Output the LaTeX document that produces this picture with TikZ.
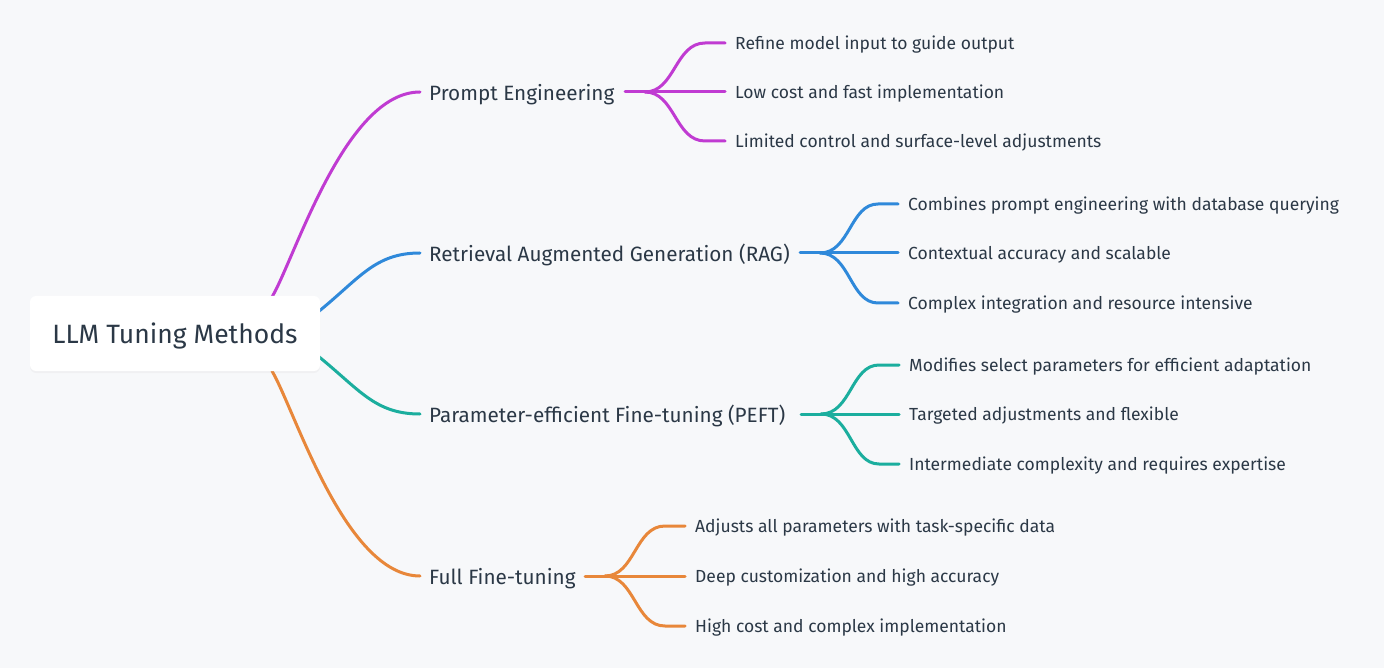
\documentclass[tikz,border=0pt]{standalone}
\usepackage{fontspec}
\setmainfont{Fira Sans}
\usetikzlibrary{shadows}
\definecolor{bgc}{HTML}{F7F8FA}
\definecolor{txt}{HTML}{2B3846}
\definecolor{cmag}{HTML}{C03BD2}
\definecolor{cblu}{HTML}{2F89DA}
\definecolor{cteal}{HTML}{1BAE9E}
\definecolor{corg}{HTML}{E8873A}
\tikzset{
  rootbox/.style={fill=white, rounded corners=6pt, minimum width=290pt, minimum height=75pt, inner sep=0pt,
    text=txt, font=\fontsize{26.5}{30}\selectfont, text depth=0pt,
    drop shadow={opacity=0.06, shadow xshift=0pt, shadow yshift=-2pt}},
  mainlbl/.style={anchor=west, inner sep=0pt, text=txt, text depth=0pt, font=\fontsize{20.7}{24}\selectfont},
  sublbl/.style={anchor=west, inner sep=0pt, text=txt, text depth=0pt, font=\fontsize{17.5}{21}\selectfont},
  edge/.style={line width=3pt, line cap=round},
}
\begin{document}
\begin{tikzpicture}[x=1pt,y=-1pt]
\fill[bgc] (0,0) rectangle (1384,668);
\useasboundingbox (0,0) rectangle (1384,668);

% root
\coordinate (sm) at (272,297);
\coordinate (sb) at (318,312);
\coordinate (st) at (318,356);
\coordinate (so) at (272,371);
\draw[edge,cmag] (sm) .. controls (295,258) and (345,92) .. (420,92) coordinate (em);
\draw[edge,cblu] (sb) .. controls (360,278) and (375,253) .. (420,253) coordinate (eb);
\draw[edge,cteal] (st) .. controls (360,390) and (375,414) .. (420,414) coordinate (et);
\draw[edge,corg] (so) .. controls (295,410) and (345,576) .. (420,576) coordinate (eo);
\node[rootbox] (root) at (175,333.5) {LLM Tuning Methods};

% main labels
\node[mainlbl] (pe) at (429,92) {Prompt Engineering};
\node[mainlbl] (rag) at (429,253) {Retrieval Augmented Generation (RAG)};
\node[mainlbl] (peft) at (429,414) {Parameter-efficient Fine-tuning (PEFT)};
\node[mainlbl] (fft) at (429,576) {Full Fine-tuning};

% Prompt engineering children
\node[sublbl] (pe1) at (735,43) {Refine model input to guide output};
\node[sublbl] (pe2) at (735,92) {Low cost and fast implementation};
\node[sublbl] (pe3) at (735,141) {Limited control and surface-level adjustments};
\coordinate (pej) at (645,92);
\draw[edge,cmag] (625,92) -- (725,92);
\draw[edge,cmag] (pej) .. controls (675,92) and (675,43) .. (705,43) -- (725,43);
\draw[edge,cmag] (pej) .. controls (675,92) and (675,141) .. (705,141) -- (725,141);

% RAG children
\node[sublbl] (rag1) at (908,204) {Combines prompt engineering with database querying};
\node[sublbl] (rag2) at (908,253) {Contextual accuracy and scalable};
\node[sublbl] (rag3) at (908,303) {Complex integration and resource intensive};
\coordinate (ragj) at (820,253);
\draw[edge,cblu] (800,253) -- (898,253);
\draw[edge,cblu] (ragj) .. controls (850,253) and (850,204) .. (878,204) -- (898,204);
\draw[edge,cblu] (ragj) .. controls (850,253) and (850,303) .. (878,303) -- (898,303);

% PEFT children
\node[sublbl] (peft1) at (909,365) {Modifies select parameters for efficient adaptation};
\node[sublbl] (peft2) at (909,414) {Targeted adjustments and flexible};
\node[sublbl] (peft3) at (909,464) {Intermediate complexity and requires expertise};
\coordinate (peftj) at (821,414);
\draw[edge,cteal] (801,414) -- (899,414);
\draw[edge,cteal] (peftj) .. controls (851,414) and (851,365) .. (879,365) -- (899,365);
\draw[edge,cteal] (peftj) .. controls (851,414) and (851,464) .. (879,464) -- (899,464);

% Full fine-tuning children
\node[sublbl] (fft1) at (695,526) {Adjusts all parameters with task-specific data};
\node[sublbl] (fft2) at (695,576) {Deep customization and high accuracy};
\node[sublbl] (fft3) at (695,626) {High cost and complex implementation};
\coordinate (fftj) at (605,576);
\draw[edge,corg] (585,576) -- (685,576);
\draw[edge,corg] (fftj) .. controls (635,576) and (635,526) .. (665,526) -- (685,526);
\draw[edge,corg] (fftj) .. controls (635,576) and (635,626) .. (665,626) -- (685,626);
\end{tikzpicture}
\end{document}
